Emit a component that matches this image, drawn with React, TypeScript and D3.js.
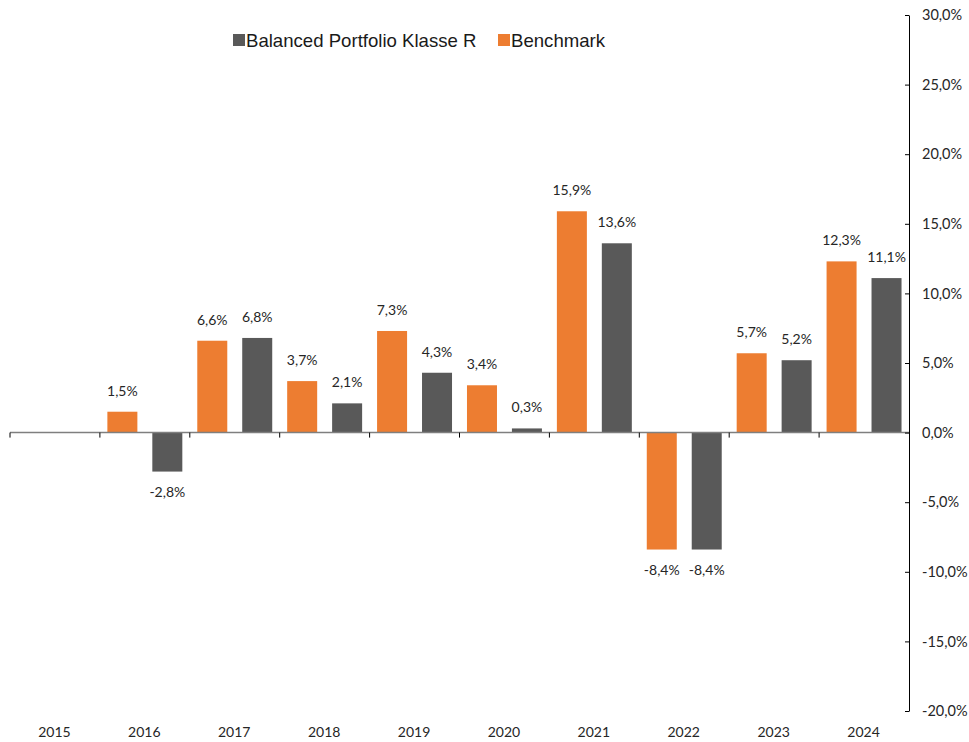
import * as d3 from "d3";
import { useEffect, useRef } from "react";

const years = ["2015", "2016", "2017", "2018", "2019", "2020", "2021", "2022", "2023", "2024"];
const benchmark = [null, 1.5, 6.6, 3.7, 7.3, 3.4, 15.9, -8.4, 5.7, 12.3];
const portfolio = [null, -2.8, 6.8, 2.1, 4.3, 0.3, 13.6, -8.4, 5.2, 11.1];
const yTicks = [30, 25, 20, 15, 10, 5, 0, -5, -10, -15, -20];
const seriesNames = ["Balanced Portfolio Klasse R", "Benchmark"];

const ORANGE = "#ED7D31";
const GREY = "#595959";
const labelFont = "Lato, 'Open Sans', sans-serif";
const fmt = (v: number) => v.toFixed(1).replace(".", ",") + "%";

export default function App() {
  const svgRef = useRef<SVGSVGElement>(null);

  useEffect(() => {
    const svg = d3.select(svgRef.current);
    svg.selectAll("*").remove();

    const x = d3.scaleBand().domain(years).range([10, 909]);
    const y = d3.scaleLinear().domain([-20, 30]).range([711, 15]);
    const inner = d3.scaleBand().domain(["b", "p"]).range([0, x.bandwidth()]).paddingInner(0.5).paddingOuter(0.25);
    const bw = 30;

    const series = [
      { key: "b", values: benchmark, color: ORANGE },
      { key: "p", values: portfolio, color: GREY },
    ];

    series.forEach((s) => {
      const g = svg.append("g");
      years.forEach((yr, i) => {
        const v = s.values[i];
        if (v == null) return;
        const cx = x(yr)! + inner(s.key)! + inner.bandwidth() / 2;
        g.append("rect")
          .attr("x", cx - bw / 2)
          .attr("width", bw)
          .attr("y", y(Math.max(0, v)))
          .attr("height", Math.abs(y(v) - y(0)))
          .attr("fill", s.color);
        g.append("text")
          .attr("x", cx)
          .attr("y", v >= 0 ? y(v) - 21 : y(v) + 21)
          .attr("dy", "0.35em")
          .attr("text-anchor", "middle")
          .attr("font-family", labelFont)
          .attr("font-size", 14)
          .attr("fill", "#262626")
          .text(fmt(v));
      });
    });

    // zero line with category ticks
    const zero = svg.append("g");
    zero.append("line")
      .attr("x1", 10).attr("x2", 909)
      .attr("y1", y(0)).attr("y2", y(0))
      .attr("stroke", "#7f7f7f").attr("stroke-width", 1.5);
    years.forEach((yr) => {
      zero.append("line")
        .attr("x1", x(yr)!).attr("x2", x(yr)!)
        .attr("y1", y(0)).attr("y2", y(0) + 5)
        .attr("stroke", "#000");
    });

    // right axis
    const axis = d3.axisRight(y).tickValues(yTicks).tickSize(0).tickPadding(13).tickFormat((d) => fmt(+d));
    const ag = svg.append("g").attr("transform", "translate(909,0)").call(axis);
    ag.select(".domain").attr("stroke", "#000");
    ag.selectAll(".tick line").remove();
    ag.selectAll(".tick").append("line").attr("x1", -4).attr("x2", 0).attr("stroke", "#000");
    ag.selectAll("text").attr("font-family", labelFont).attr("font-size", 14.5).attr("fill", "#262626");

    // category labels
    years.forEach((yr) => {
      svg.append("text")
        .attr("x", x(yr)! + x.bandwidth() / 2 - 0.5)
        .attr("y", 732)
        .attr("dy", "0.35em")
        .attr("text-anchor", "middle")
        .attr("font-family", labelFont)
        .attr("font-size", 14)
        .attr("fill", "#262626")
        .text(yr);
    });

    // legend
    const legend = [
      { name: seriesNames[0], color: GREY, x: 233 },
      { name: seriesNames[1], color: ORANGE, x: 498 },
    ];
    legend.forEach((l) => {
      svg.append("rect").attr("x", l.x).attr("y", 34).attr("width", 12).attr("height", 12).attr("fill", l.color);
      svg.append("text")
        .attr("x", l.x + 13)
        .attr("y", 40)
        .attr("dy", "0.35em")
        .attr("font-family", "'Liberation Sans', Arial, sans-serif")
        .attr("font-size", 18.6)
        .attr("fill", "#1a1a1a")
        .text(l.name);
    });
  }, []);

  return <svg ref={svgRef} width={969} height={742} style={{ position: "absolute", left: 0, top: 0 }} />;
}
